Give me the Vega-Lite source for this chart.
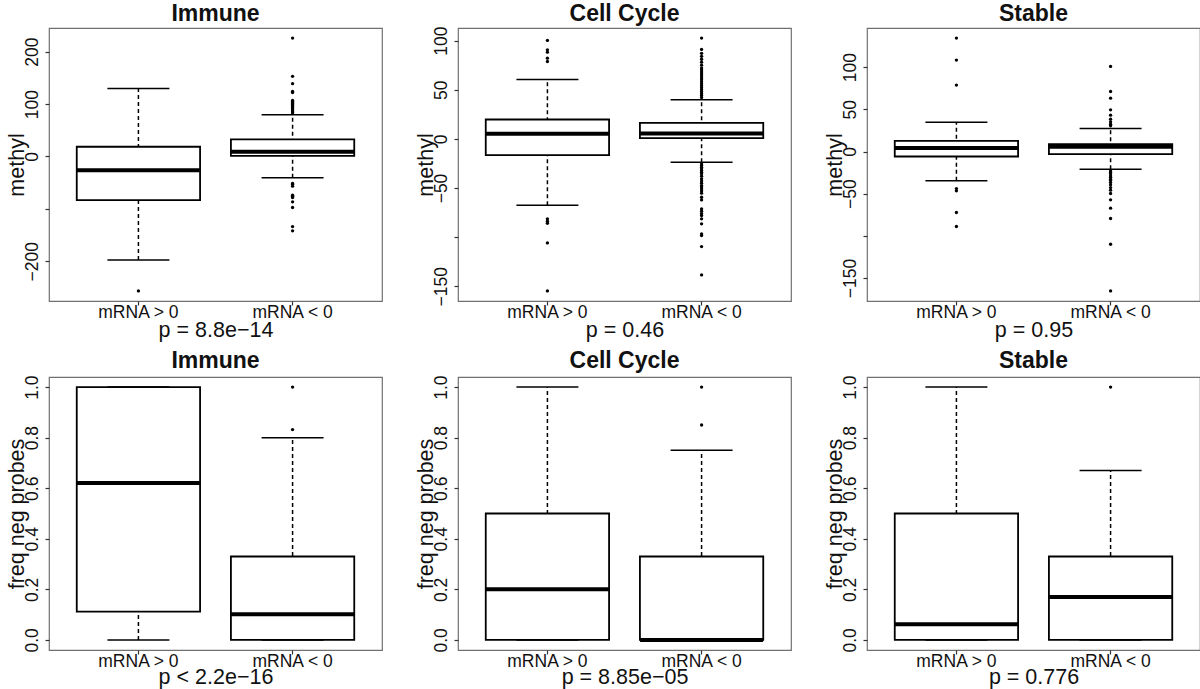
{
  "$schema": "https://vega.github.io/schema/vega-lite/v6.json",
  "padding": {"left": 5, "top": 2, "right": 0, "bottom": 0},
  "background": "white",
  "columns": 3,
  "spacing": 76,
  "bounds": "flush",
  "datasets": {
    "rows": [
      {"panel": "imm_m", "group": "mRNA > 0", "lo": -197.5, "q1": -83.4, "med": -26.1, "q3": 18.5, "hi": 130},
      {"panel": "imm_m", "group": "mRNA < 0", "lo": -40.8, "q1": 1.3, "med": 8.9, "q3": 32.5, "hi": 79.6},
      {"panel": "cc_m", "group": "mRNA > 0", "lo": -67.5, "q1": -16.6, "med": 5.1, "q3": 19.7, "hi": 60.4},
      {"panel": "cc_m", "group": "mRNA < 0", "lo": -23.8, "q1": 0.7, "med": 5.4, "q3": 16.3, "hi": 39.7},
      {"panel": "st_m", "group": "mRNA > 0", "lo": -34.8, "q1": -5.9, "med": 4.3, "q3": 12.6, "hi": 34.8},
      {"panel": "st_m", "group": "mRNA < 0", "lo": -20.9, "q1": -3.2, "med": 5.5, "q3": 8.7, "hi": 27.3},
      {"panel": "imm_f", "group": "mRNA > 0", "lo": 0, "q1": 0.112, "med": 0.621, "q3": 1.0, "hi": 1.0},
      {"panel": "imm_f", "group": "mRNA < 0", "lo": 0, "q1": 0, "med": 0.101, "q3": 0.33, "hi": 0.8},
      {"panel": "cc_f", "group": "mRNA > 0", "lo": 0, "q1": 0, "med": 0.2, "q3": 0.5, "hi": 1.0},
      {"panel": "cc_f", "group": "mRNA < 0", "lo": 0, "q1": 0, "med": 0.0, "q3": 0.33, "hi": 0.75},
      {"panel": "st_f", "group": "mRNA > 0", "lo": 0, "q1": 0, "med": 0.062, "q3": 0.5, "hi": 1.0},
      {"panel": "st_f", "group": "mRNA < 0", "lo": 0, "q1": 0, "med": 0.17, "q3": 0.33, "hi": 0.67},

      {"panel": "imm_m", "group": "mRNA > 0", "value": -256.7},
      {"panel": "imm_m", "group": "mRNA < 0", "value": 226},
      {"panel": "imm_m", "group": "mRNA < 0", "value": 153},
      {"panel": "imm_m", "group": "mRNA < 0", "value": 139},
      {"panel": "imm_m", "group": "mRNA < 0", "value": 124},
      {"panel": "imm_m", "group": "mRNA < 0", "value": 122},
      {"panel": "imm_m", "group": "mRNA < 0", "value": 107},
      {"panel": "imm_m", "group": "mRNA < 0", "value": 105},
      {"panel": "imm_m", "group": "mRNA < 0", "value": 103},
      {"panel": "imm_m", "group": "mRNA < 0", "value": 101},
      {"panel": "imm_m", "group": "mRNA < 0", "value": 99},
      {"panel": "imm_m", "group": "mRNA < 0", "value": 97},
      {"panel": "imm_m", "group": "mRNA < 0", "value": 95},
      {"panel": "imm_m", "group": "mRNA < 0", "value": 93},
      {"panel": "imm_m", "group": "mRNA < 0", "value": 91},
      {"panel": "imm_m", "group": "mRNA < 0", "value": 89},
      {"panel": "imm_m", "group": "mRNA < 0", "value": 87},
      {"panel": "imm_m", "group": "mRNA < 0", "value": 85},
      {"panel": "imm_m", "group": "mRNA < 0", "value": 83},
      {"panel": "imm_m", "group": "mRNA < 0", "value": -51.6},
      {"panel": "imm_m", "group": "mRNA < 0", "value": -53},
      {"panel": "imm_m", "group": "mRNA < 0", "value": -56.7},
      {"panel": "imm_m", "group": "mRNA < 0", "value": -73.9},
      {"panel": "imm_m", "group": "mRNA < 0", "value": -76},
      {"panel": "imm_m", "group": "mRNA < 0", "value": -78.3},
      {"panel": "imm_m", "group": "mRNA < 0", "value": -86.6},
      {"panel": "imm_m", "group": "mRNA < 0", "value": -97.5},
      {"panel": "imm_m", "group": "mRNA < 0", "value": -133.8},
      {"panel": "imm_m", "group": "mRNA < 0", "value": -142},

      {"panel": "cc_m", "group": "mRNA > 0", "value": 100.1},
      {"panel": "cc_m", "group": "mRNA > 0", "value": 90.6},
      {"panel": "cc_m", "group": "mRNA > 0", "value": 88.2},
      {"panel": "cc_m", "group": "mRNA > 0", "value": 82.1},
      {"panel": "cc_m", "group": "mRNA > 0", "value": 78.7},
      {"panel": "cc_m", "group": "mRNA > 0", "value": -81.4},
      {"panel": "cc_m", "group": "mRNA > 0", "value": -83.8},
      {"panel": "cc_m", "group": "mRNA > 0", "value": -85.9},
      {"panel": "cc_m", "group": "mRNA > 0", "value": -105.9},
      {"panel": "cc_m", "group": "mRNA > 0", "value": -154.7},
      {"panel": "cc_m", "group": "mRNA < 0", "value": 102.5},
      {"panel": "cc_m", "group": "mRNA < 0", "value": 91},
      {"panel": "cc_m", "group": "mRNA < 0", "value": 87},
      {"panel": "cc_m", "group": "mRNA < 0", "value": 84},
      {"panel": "cc_m", "group": "mRNA < 0", "value": 81},
      {"panel": "cc_m", "group": "mRNA < 0", "value": 78},
      {"panel": "cc_m", "group": "mRNA < 0", "value": 75},
      {"panel": "cc_m", "group": "mRNA < 0", "value": 72},
      {"panel": "cc_m", "group": "mRNA < 0", "value": 70},
      {"panel": "cc_m", "group": "mRNA < 0", "value": 68},
      {"panel": "cc_m", "group": "mRNA < 0", "value": 66},
      {"panel": "cc_m", "group": "mRNA < 0", "value": 64},
      {"panel": "cc_m", "group": "mRNA < 0", "value": 62},
      {"panel": "cc_m", "group": "mRNA < 0", "value": 60},
      {"panel": "cc_m", "group": "mRNA < 0", "value": 58},
      {"panel": "cc_m", "group": "mRNA < 0", "value": 56},
      {"panel": "cc_m", "group": "mRNA < 0", "value": 54},
      {"panel": "cc_m", "group": "mRNA < 0", "value": 52},
      {"panel": "cc_m", "group": "mRNA < 0", "value": 50},
      {"panel": "cc_m", "group": "mRNA < 0", "value": 48},
      {"panel": "cc_m", "group": "mRNA < 0", "value": 46},
      {"panel": "cc_m", "group": "mRNA < 0", "value": 44},
      {"panel": "cc_m", "group": "mRNA < 0", "value": 42},
      {"panel": "cc_m", "group": "mRNA < 0", "value": -25.5},
      {"panel": "cc_m", "group": "mRNA < 0", "value": -27},
      {"panel": "cc_m", "group": "mRNA < 0", "value": -28.8},
      {"panel": "cc_m", "group": "mRNA < 0", "value": -30.5},
      {"panel": "cc_m", "group": "mRNA < 0", "value": -32.2},
      {"panel": "cc_m", "group": "mRNA < 0", "value": -34},
      {"panel": "cc_m", "group": "mRNA < 0", "value": -35.6},
      {"panel": "cc_m", "group": "mRNA < 0", "value": -38},
      {"panel": "cc_m", "group": "mRNA < 0", "value": -40.7},
      {"panel": "cc_m", "group": "mRNA < 0", "value": -43},
      {"panel": "cc_m", "group": "mRNA < 0", "value": -45.1},
      {"panel": "cc_m", "group": "mRNA < 0", "value": -47.5},
      {"panel": "cc_m", "group": "mRNA < 0", "value": -49},
      {"panel": "cc_m", "group": "mRNA < 0", "value": -50.9},
      {"panel": "cc_m", "group": "mRNA < 0", "value": -53},
      {"panel": "cc_m", "group": "mRNA < 0", "value": -55.3},
      {"panel": "cc_m", "group": "mRNA < 0", "value": -59.4},
      {"panel": "cc_m", "group": "mRNA < 0", "value": -62.1},
      {"panel": "cc_m", "group": "mRNA < 0", "value": -71.3},
      {"panel": "cc_m", "group": "mRNA < 0", "value": -73.6},
      {"panel": "cc_m", "group": "mRNA < 0", "value": -76},
      {"panel": "cc_m", "group": "mRNA < 0", "value": -78},
      {"panel": "cc_m", "group": "mRNA < 0", "value": -81.4},
      {"panel": "cc_m", "group": "mRNA < 0", "value": -86.5},
      {"panel": "cc_m", "group": "mRNA < 0", "value": -96.7},
      {"panel": "cc_m", "group": "mRNA < 0", "value": -98.4},
      {"panel": "cc_m", "group": "mRNA < 0", "value": -109.6},
      {"panel": "cc_m", "group": "mRNA < 0", "value": -138.4},

      {"panel": "st_m", "group": "mRNA > 0", "value": 134.4},
      {"panel": "st_m", "group": "mRNA > 0", "value": 108.3},
      {"panel": "st_m", "group": "mRNA > 0", "value": 78.7},
      {"panel": "st_m", "group": "mRNA > 0", "value": -43.9},
      {"panel": "st_m", "group": "mRNA > 0", "value": -46.6},
      {"panel": "st_m", "group": "mRNA > 0", "value": -72.3},
      {"panel": "st_m", "group": "mRNA > 0", "value": -88.9},
      {"panel": "st_m", "group": "mRNA < 0", "value": 100.8},
      {"panel": "st_m", "group": "mRNA < 0", "value": 71.1},
      {"panel": "st_m", "group": "mRNA < 0", "value": 63.2},
      {"panel": "st_m", "group": "mRNA < 0", "value": 49.4},
      {"panel": "st_m", "group": "mRNA < 0", "value": 43.1},
      {"panel": "st_m", "group": "mRNA < 0", "value": 38.3},
      {"panel": "st_m", "group": "mRNA < 0", "value": 35.2},
      {"panel": "st_m", "group": "mRNA < 0", "value": 32.4},
      {"panel": "st_m", "group": "mRNA < 0", "value": 30.5},
      {"panel": "st_m", "group": "mRNA < 0", "value": -23},
      {"panel": "st_m", "group": "mRNA < 0", "value": -24.9},
      {"panel": "st_m", "group": "mRNA < 0", "value": -26.5},
      {"panel": "st_m", "group": "mRNA < 0", "value": -28.9},
      {"panel": "st_m", "group": "mRNA < 0", "value": -30.5},
      {"panel": "st_m", "group": "mRNA < 0", "value": -32.8},
      {"panel": "st_m", "group": "mRNA < 0", "value": -34.5},
      {"panel": "st_m", "group": "mRNA < 0", "value": -36.8},
      {"panel": "st_m", "group": "mRNA < 0", "value": -39.5},
      {"panel": "st_m", "group": "mRNA < 0", "value": -42.7},
      {"panel": "st_m", "group": "mRNA < 0", "value": -45.8},
      {"panel": "st_m", "group": "mRNA < 0", "value": -49.8},
      {"panel": "st_m", "group": "mRNA < 0", "value": -57.3},
      {"panel": "st_m", "group": "mRNA < 0", "value": -67.2},
      {"panel": "st_m", "group": "mRNA < 0", "value": -79.4},
      {"panel": "st_m", "group": "mRNA < 0", "value": -109.9},
      {"panel": "st_m", "group": "mRNA < 0", "value": -165.2},

      {"panel": "imm_f", "group": "mRNA < 0", "value": 0.832},
      {"panel": "imm_f", "group": "mRNA < 0", "value": 1.0},
      {"panel": "cc_f", "group": "mRNA < 0", "value": 0.85},
      {"panel": "cc_f", "group": "mRNA < 0", "value": 1.0},
      {"panel": "st_f", "group": "mRNA < 0", "value": 1.0}
    ]
  },
  "concat": [
    {
      "title": "Immune", "width": 333, "height": 273,
      "data": {"name": "rows"},
      "transform": [{"filter": "datum.panel == 'imm_m'"}],
      "encoding": {"x": {"field": "group", "type": "nominal", "sort": ["mRNA > 0", "mRNA < 0"], "scale": {"paddingInner": 0.2, "paddingOuter": 0.18}, "axis": {"title": "p = 8.8e−14"}}},
      "layer": [
        {"mark": {"type": "rule", "strokeDash": [4, 3], "strokeWidth": 1.5, "color": "black"},
         "encoding": {"y": {"field": "lo", "type": "quantitative", "scale": {"zero": false, "nice": false, "padding": 10.1}, "axis": {"title": "methyl", "values": [-200, -100, 0, 100, 200], "labelExpr": "datum.value == -100 ? '' : datum.label"}}, "y2": {"field": "hi"}}},
        {"mark": {"type": "bar", "fill": "white", "stroke": "black", "strokeWidth": 1.8}, "encoding": {"y": {"field": "q1", "type": "quantitative"}, "y2": {"field": "q3"}}},
        {"mark": {"type": "tick", "size": 123, "thickness": 4, "color": "black", "opacity": 1}, "encoding": {"y": {"field": "med", "type": "quantitative"}}},
        {"mark": {"type": "tick", "size": 62, "thickness": 1.5, "color": "black", "opacity": 1}, "encoding": {"y": {"field": "lo", "type": "quantitative"}}},
        {"mark": {"type": "tick", "size": 62, "thickness": 1.5, "color": "black", "opacity": 1}, "encoding": {"y": {"field": "hi", "type": "quantitative"}}},
        {"mark": {"type": "point", "filled": true, "size": 11, "color": "black", "opacity": 1}, "encoding": {"y": {"field": "value", "type": "quantitative"}}}
      ]
    },
    {
      "title": {"text": "Cell Cycle", "offset": 0},
      "width": 333, "height": 273,
      "data": {"name": "rows"},
      "transform": [{"filter": "datum.panel == 'cc_m'"}],
      "encoding": {"x": {"field": "group", "type": "nominal", "sort": ["mRNA > 0", "mRNA < 0"], "scale": {"paddingInner": 0.2, "paddingOuter": 0.18}, "axis": {"title": "p = 0.46"}}},
      "layer": [
        {"mark": {"type": "rule", "strokeDash": [4, 3], "strokeWidth": 1.5, "color": "black"},
         "encoding": {"y": {"field": "lo", "type": "quantitative", "scale": {"zero": false, "nice": false, "padding": 10.1}, "axis": {"title": "methyl", "values": [-150, -100, -50, 0, 50, 100], "labelExpr": "datum.value == -100 ? '' : datum.label"}}, "y2": {"field": "hi"}}},
        {"mark": {"type": "bar", "fill": "white", "stroke": "black", "strokeWidth": 1.8}, "encoding": {"y": {"field": "q1", "type": "quantitative"}, "y2": {"field": "q3"}}},
        {"mark": {"type": "tick", "size": 123, "thickness": 4, "color": "black", "opacity": 1}, "encoding": {"y": {"field": "med", "type": "quantitative"}}},
        {"mark": {"type": "tick", "size": 62, "thickness": 1.5, "color": "black", "opacity": 1}, "encoding": {"y": {"field": "lo", "type": "quantitative"}}},
        {"mark": {"type": "tick", "size": 62, "thickness": 1.5, "color": "black", "opacity": 1}, "encoding": {"y": {"field": "hi", "type": "quantitative"}}},
        {"mark": {"type": "point", "filled": true, "size": 11, "color": "black", "opacity": 1}, "encoding": {"y": {"field": "value", "type": "quantitative"}}}
      ]
    },
    {
      "title": "Stable", "width": 333, "height": 273,
      "data": {"name": "rows"},
      "transform": [{"filter": "datum.panel == 'st_m'"}],
      "encoding": {"x": {"field": "group", "type": "nominal", "sort": ["mRNA > 0", "mRNA < 0"], "scale": {"paddingInner": 0.2, "paddingOuter": 0.18}, "axis": {"title": "p = 0.95"}}},
      "layer": [
        {"mark": {"type": "rule", "strokeDash": [4, 3], "strokeWidth": 1.5, "color": "black"},
         "encoding": {"y": {"field": "lo", "type": "quantitative", "scale": {"zero": false, "nice": false, "padding": 10.1}, "axis": {"title": "methyl", "values": [-150, -100, -50, 0, 50, 100], "labelExpr": "datum.value == -100 ? '' : datum.label"}}, "y2": {"field": "hi"}}},
        {"mark": {"type": "bar", "fill": "white", "stroke": "black", "strokeWidth": 1.8}, "encoding": {"y": {"field": "q1", "type": "quantitative"}, "y2": {"field": "q3"}}},
        {"mark": {"type": "tick", "size": 123, "thickness": 4, "color": "black", "opacity": 1}, "encoding": {"y": {"field": "med", "type": "quantitative"}}},
        {"mark": {"type": "tick", "size": 62, "thickness": 1.5, "color": "black", "opacity": 1}, "encoding": {"y": {"field": "lo", "type": "quantitative"}}},
        {"mark": {"type": "tick", "size": 62, "thickness": 1.5, "color": "black", "opacity": 1}, "encoding": {"y": {"field": "hi", "type": "quantitative"}}},
        {"mark": {"type": "point", "filled": true, "size": 11, "color": "black", "opacity": 1}, "encoding": {"y": {"field": "value", "type": "quantitative"}}}
      ]
    },
    {
      "title": "Immune", "width": 333, "height": 273,
      "data": {"name": "rows"},
      "transform": [{"filter": "datum.panel == 'imm_f'"}],
      "encoding": {"x": {"field": "group", "type": "nominal", "sort": ["mRNA > 0", "mRNA < 0"], "scale": {"paddingInner": 0.2, "paddingOuter": 0.18}, "axis": {"title": "p < 2.2e−16", "titlePadding": -3}}},
      "layer": [
        {"mark": {"type": "rule", "strokeDash": [4, 3], "strokeWidth": 1.5, "color": "black"},
         "encoding": {"y": {"field": "lo", "type": "quantitative", "scale": {"zero": false, "nice": false, "padding": 10.1}, "axis": {"title": "freq neg probes", "values": [0, 0.2, 0.4, 0.6, 0.8, 1.0], "format": ".1f"}}, "y2": {"field": "hi"}}},
        {"mark": {"type": "bar", "fill": "white", "stroke": "black", "strokeWidth": 1.8}, "encoding": {"y": {"field": "q1", "type": "quantitative"}, "y2": {"field": "q3"}}},
        {"mark": {"type": "tick", "size": 123, "thickness": 4, "color": "black", "opacity": 1}, "encoding": {"y": {"field": "med", "type": "quantitative"}}},
        {"mark": {"type": "tick", "size": 62, "thickness": 1.5, "color": "black", "opacity": 1}, "encoding": {"y": {"field": "lo", "type": "quantitative"}}},
        {"mark": {"type": "tick", "size": 62, "thickness": 1.5, "color": "black", "opacity": 1}, "encoding": {"y": {"field": "hi", "type": "quantitative"}}},
        {"mark": {"type": "point", "filled": true, "size": 11, "color": "black", "opacity": 1}, "encoding": {"y": {"field": "value", "type": "quantitative"}}}
      ]
    },
    {
      "title": "Cell Cycle", "width": 333, "height": 273,
      "data": {"name": "rows"},
      "transform": [{"filter": "datum.panel == 'cc_f'"}],
      "encoding": {"x": {"field": "group", "type": "nominal", "sort": ["mRNA > 0", "mRNA < 0"], "scale": {"paddingInner": 0.2, "paddingOuter": 0.18}, "axis": {"title": "p = 8.85e−05", "titlePadding": -3}}},
      "layer": [
        {"mark": {"type": "rule", "strokeDash": [4, 3], "strokeWidth": 1.5, "color": "black"},
         "encoding": {"y": {"field": "lo", "type": "quantitative", "scale": {"zero": false, "nice": false, "padding": 10.1}, "axis": {"title": "freq neg probes", "values": [0, 0.2, 0.4, 0.6, 0.8, 1.0], "format": ".1f"}}, "y2": {"field": "hi"}}},
        {"mark": {"type": "bar", "fill": "white", "stroke": "black", "strokeWidth": 1.8}, "encoding": {"y": {"field": "q1", "type": "quantitative"}, "y2": {"field": "q3"}}},
        {"mark": {"type": "tick", "size": 123, "thickness": 4, "color": "black", "opacity": 1}, "encoding": {"y": {"field": "med", "type": "quantitative"}}},
        {"mark": {"type": "tick", "size": 62, "thickness": 1.5, "color": "black", "opacity": 1}, "encoding": {"y": {"field": "lo", "type": "quantitative"}}},
        {"mark": {"type": "tick", "size": 62, "thickness": 1.5, "color": "black", "opacity": 1}, "encoding": {"y": {"field": "hi", "type": "quantitative"}}},
        {"mark": {"type": "point", "filled": true, "size": 11, "color": "black", "opacity": 1}, "encoding": {"y": {"field": "value", "type": "quantitative"}}}
      ]
    },
    {
      "title": "Stable", "width": 333, "height": 273,
      "data": {"name": "rows"},
      "transform": [{"filter": "datum.panel == 'st_f'"}],
      "encoding": {"x": {"field": "group", "type": "nominal", "sort": ["mRNA > 0", "mRNA < 0"], "scale": {"paddingInner": 0.2, "paddingOuter": 0.18}, "axis": {"title": "p = 0.776", "titlePadding": -3}}},
      "layer": [
        {"mark": {"type": "rule", "strokeDash": [4, 3], "strokeWidth": 1.5, "color": "black"},
         "encoding": {"y": {"field": "lo", "type": "quantitative", "scale": {"zero": false, "nice": false, "padding": 10.1}, "axis": {"title": "freq neg probes", "values": [0, 0.2, 0.4, 0.6, 0.8, 1.0], "format": ".1f"}}, "y2": {"field": "hi"}}},
        {"mark": {"type": "bar", "fill": "white", "stroke": "black", "strokeWidth": 1.8}, "encoding": {"y": {"field": "q1", "type": "quantitative"}, "y2": {"field": "q3"}}},
        {"mark": {"type": "tick", "size": 123, "thickness": 4, "color": "black", "opacity": 1}, "encoding": {"y": {"field": "med", "type": "quantitative"}}},
        {"mark": {"type": "tick", "size": 62, "thickness": 1.5, "color": "black", "opacity": 1}, "encoding": {"y": {"field": "lo", "type": "quantitative"}}},
        {"mark": {"type": "tick", "size": 62, "thickness": 1.5, "color": "black", "opacity": 1}, "encoding": {"y": {"field": "hi", "type": "quantitative"}}},
        {"mark": {"type": "point", "filled": true, "size": 11, "color": "black", "opacity": 1}, "encoding": {"y": {"field": "value", "type": "quantitative"}}}
      ]
    }
  ],
  "config": {
    "font": "Liberation Sans",
    "view": {"stroke": "#707070", "strokeWidth": 1.2},
    "axis": {"domain": false, "grid": false, "tickColor": "#333", "tickSize": 4, "tickWidth": 1.2, "labelFont": "Liberation Sans", "labelFontSize": 17.5, "labelColor": "#111", "titleFont": "Liberation Sans", "titleFontSize": 21.5, "titleFontWeight": "normal", "titleColor": "#111", "labelOverlap": false, "labelFlush": false},
    "axisY": {"labelAngle": 270, "labelAlign": "center", "labelBaseline": "alphabetic", "labelPadding": 8, "titlePadding": -5},
    "axisX": {"labelAngle": 0, "labelPadding": -2, "titlePadding": -1},
    "title": {"font": "Liberation Sans", "fontSize": 23, "fontWeight": "bold", "color": "#111", "offset": 2, "baseline": "alphabetic", "frame": "group", "anchor": "middle"}
  }
}
